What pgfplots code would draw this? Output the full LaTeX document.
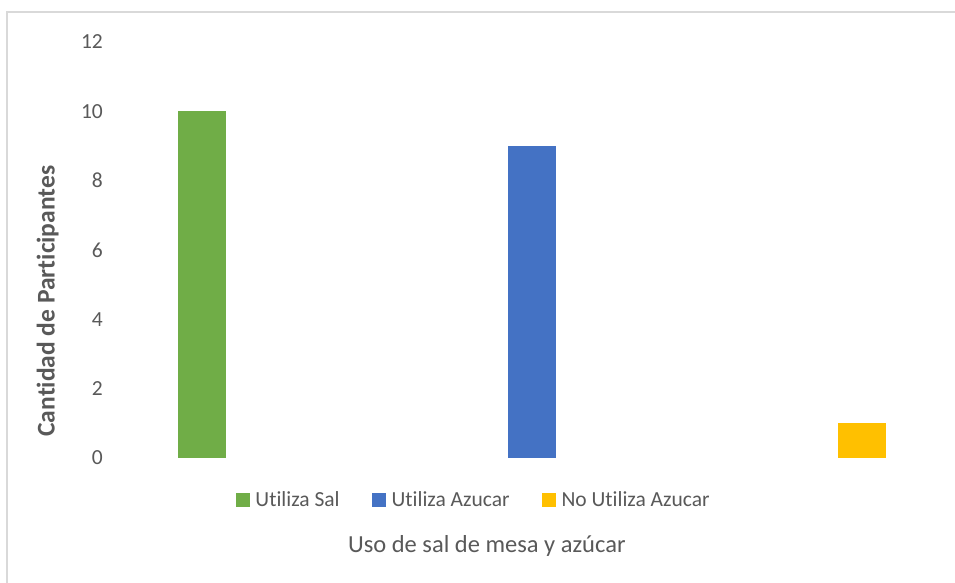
\documentclass[border=0pt]{standalone}
\usepackage{fontspec}
\setmainfont{Carlito}[Ligatures=NoCommon]
\usepackage{pgfplots}
\pgfplotsset{compat=1.18}
\definecolor{txt}{HTML}{595959}
\definecolor{frame}{HTML}{D9D9D9}
\definecolor{cgreen}{HTML}{70AD47}
\definecolor{cblue}{HTML}{4472C4}
\definecolor{cyellow}{HTML}{FFC000}
\begin{document}
\begin{tikzpicture}
\path[use as bounding box] (0,0) rectangle (955bp,583bp);
\fill[white] (0,0) rectangle (955bp,583bp);
\draw[frame, line width=1.6bp] (7bp,-5bp) -- (7bp,571bp) -- (965bp,571bp);
\begin{axis}[
  at={(110bp,125bp)}, anchor=south west,
  scale only axis, width=830bp, height=416bp,
  xmin=0.7212, xmax=3.2364,
  ymin=0, ymax=12,
  ytick={0,2,...,12},
  xtick=\empty,
  axis line style={draw=none},
  major tick length=0pt,
  /pgf/number format/assume math mode=true,
  tick label style={font=\fontsize{21.5bp}{24bp}\selectfont, text=txt},
  yticklabel style={anchor=east, inner sep=0pt, xshift=-7bp},
  ylabel={\bfseries Cantidad de Participantes},
  xlabel={Uso de sal de mesa y azúcar},
  every axis y label/.style={at={(axis description cs:-0.075,0.377)}, anchor=center, rotate=90, font=\fontsize{25.5bp}{28bp}\selectfont, text=txt},
  every axis x label/.style={at={(axis description cs:0.454,-0.2115)}, anchor=center, font=\fontsize{24.5bp}{27bp}\selectfont, text=txt},
  legend columns=3,
  legend image code/.code={\fill[#1] (0bp,-7bp) rectangle (14bp,7bp);},
  legend style={at={(axis description cs:0.438,-0.101)}, anchor=center, draw=none, fill=none,
    font=\fontsize{21.5bp}{24bp}\selectfont, text=txt, inner sep=0pt,
    /tikz/every odd column/.append style={column sep=4bp},
    /tikz/every even column/.append style={column sep=30bp}},
]
\addplot[ybar, bar shift=0pt, bar width=48bp, fill=cgreen, draw=none] coordinates {(1,10)};
\addlegendentry{Utiliza Sal}
\addplot[ybar, bar shift=0pt, bar width=48bp, fill=cblue, draw=none] coordinates {(2,9)};
\addlegendentry{Utiliza Azucar}
\addplot[ybar, bar shift=0pt, bar width=48bp, fill=cyellow, draw=none] coordinates {(3,1)};
\addlegendentry{No Utiliza Azucar}
\end{axis}
\end{tikzpicture}
\end{document}
